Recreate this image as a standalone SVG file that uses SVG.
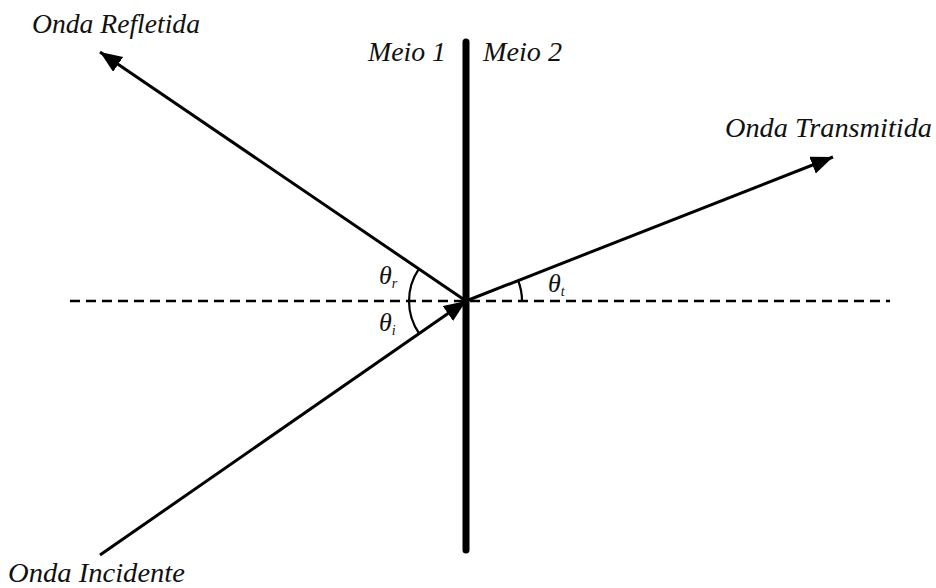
<svg xmlns="http://www.w3.org/2000/svg" width="936" height="588" viewBox="0 0 936 588">
<style>
.lbl{font-family:"Liberation Serif","DejaVu Serif",serif;font-style:italic;font-size:27px;fill:#111}
.th{font-family:"Liberation Serif","DejaVu Serif",serif;font-style:italic;font-size:26px;fill:#111}
.sub{font-size:14px}
.ray{stroke:#000;stroke-width:3;fill:none}
.arc{stroke:#000;stroke-width:2.2;fill:none}
</style>
<defs>
<marker id="ah" markerUnits="userSpaceOnUse" markerWidth="26" markerHeight="20" refX="22" refY="9" orient="auto">
<path d="M0,0 L22,9 L0,18 Z" fill="#000"/>
</marker>
</defs>
<rect width="936" height="588" fill="#fff"/>
<g id="interface">
<line x1="70" y1="301" x2="890" y2="301" stroke="#000" stroke-width="2.5" stroke-dasharray="10,6"/>
<line x1="466" y1="42" x2="466" y2="550" stroke="#000" stroke-width="7" stroke-linecap="round"/>
</g>
<g id="connectors">
<line id="incident" class="ray" x1="100" y1="555" x2="466" y2="301" marker-end="url(#ah)"/>
<line id="reflected" class="ray" x1="466" y1="301" x2="100" y2="52" marker-end="url(#ah)"/>
<line id="transmitted" class="ray" x1="466" y1="301" x2="833" y2="157" marker-end="url(#ah)"/>
<path class="arc" d="M418.9,268.9 A57,57 0 0 0 419.2,333.5"/>
<path class="arc" d="M518.1,280.5 A56,56 0 0 1 522,301"/>
</g>
<g id="labels">
<text class="lbl" x="32" y="33" textLength="168" lengthAdjust="spacingAndGlyphs">Onda Refletida</text>
<text class="lbl" x="368" y="61" textLength="78" lengthAdjust="spacingAndGlyphs">Meio 1</text>
<text class="lbl" x="483" y="61" textLength="79" lengthAdjust="spacingAndGlyphs">Meio 2</text>
<text class="lbl" x="725" y="137" textLength="207" lengthAdjust="spacingAndGlyphs">Onda Transmitida</text>
<text class="lbl" x="8" y="582" textLength="177" lengthAdjust="spacingAndGlyphs">Onda Incidente</text>
<text class="th" x="379" y="284">θ<tspan class="sub" dy="4">r</tspan></text>
<text class="th" x="379" y="331">θ<tspan class="sub" dy="4">i</tspan></text>
<text class="th" x="548" y="292">θ<tspan class="sub" dy="4">t</tspan></text>
</g>
</svg>
